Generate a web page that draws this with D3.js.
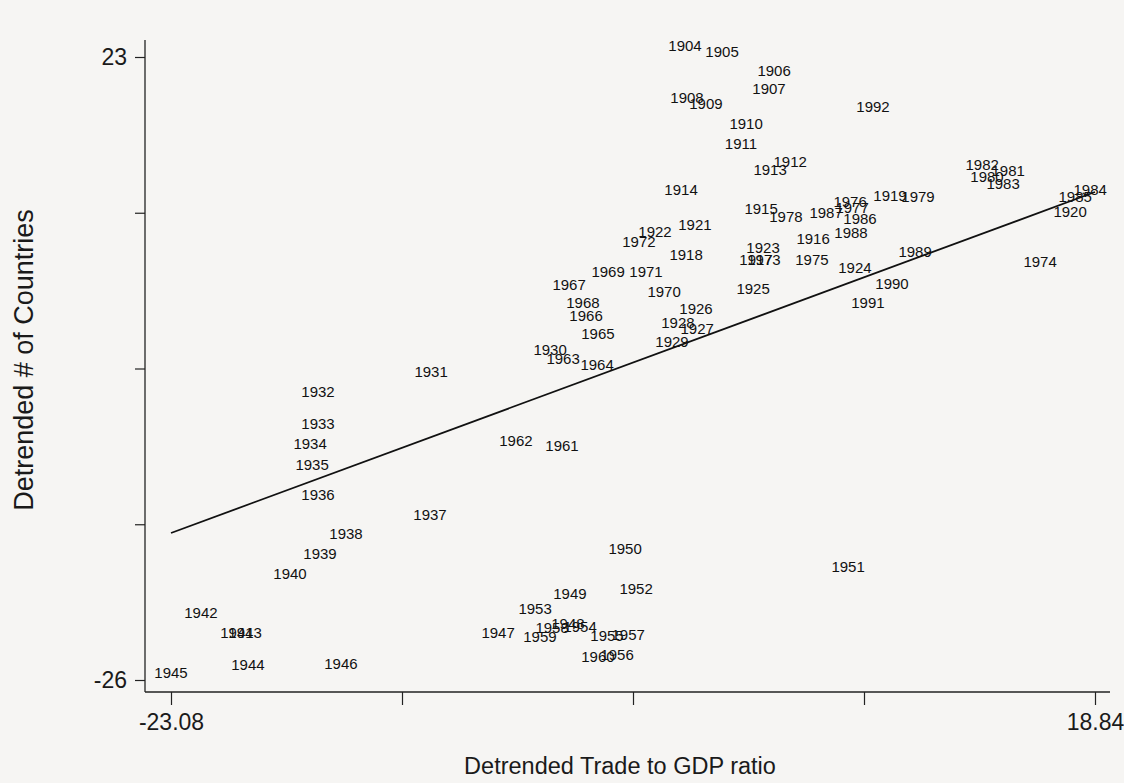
<!DOCTYPE html>
<html>
<head>
<meta charset="utf-8">
<script src="https://cdnjs.cloudflare.com/ajax/libs/d3/7.8.5/d3.min.js"></script>
<style>
  body { margin: 0; background: #f6f5f3; }
  svg { font-family: "Liberation Sans", Arial, sans-serif; }
</style>
</head>
<body>
<script>
// year labels, detrended trade/GDP (x), detrended # of countries (y)
let years = [
  1904, 1905, 1906, 1907, 1908, 1909, 1910, 1911, 1912, 1913,
  1914, 1915, 1916, 1917, 1918, 1919, 1920, 1921, 1922, 1923,
  1924, 1925, 1926, 1927, 1928, 1929, 1930, 1931, 1932, 1933,
  1934, 1935, 1936, 1937, 1938, 1939, 1940, 1941, 1942, 1943,
  1944, 1945, 1946, 1947, 1948, 1949, 1950, 1951, 1952, 1953,
  1954, 1955, 1956, 1957, 1958, 1959, 1960, 1961, 1962, 1963,
  1964, 1965, 1966, 1967, 1968, 1969, 1970, 1971, 1972, 1973,
  1974, 1975, 1976, 1977, 1978, 1979, 1980, 1981, 1982, 1983,
  1984, 1985, 1986, 1987, 1988, 1989, 1990, 1991, 1992
];

let tradeRatio = [
  0.24, 1.92, 4.28, 4.05, 0.33, 1.19, 3.01, 2.78, 5.01, 4.10,
  0.06, 3.69, 6.05, 3.46, 0.29, 9.54, 17.71, 0.69, -1.12, 3.78,
  7.95, 3.33, 0.74, 0.79, -0.08, -0.35, -5.88, -11.28, -16.41, -16.41,
  -16.77, -16.68, -16.41, -11.33, -15.14, -16.32, -17.68, -20.09, -21.72, -19.72,
  -19.59, -23.08, -15.37, -8.24, -5.07, -4.98, -2.48, 7.64, -1.98, -6.56,
  -4.52, -3.30, -2.84, -2.34, -5.79, -6.34, -3.71, -5.34, -7.43, -5.29,
  -3.75, -3.71, -4.25, -5.02, -4.39, -3.25, -0.71, -1.53, -1.85, 3.82,
  16.35, 6.00, 7.73, 7.82, 4.82, 10.81, 13.94, 14.90, 13.72, 14.67,
  18.62, 17.94, 8.18, 6.64, 7.77, 10.68, 9.63, 8.54, 8.77
];

let countries = [
  23.87, 23.39, 21.90, 20.48, 19.78, 19.30, 17.73, 16.16, 14.74, 14.11,
  12.54, 11.04, 8.69, 7.03, 7.43, 12.07, 10.81, 9.79, 9.24, 7.98,
  6.40, 4.75, 3.18, 1.61, 2.08, 0.58, -0.05, -1.78, -3.35, -5.87,
  -7.44, -9.09, -11.45, -13.02, -14.52, -16.09, -17.66, -22.30, -20.73, -22.30,
  -24.82, -25.45, -24.74, -22.30, -21.60, -19.24, -15.70, -17.11, -18.84, -20.42,
  -21.83, -22.54, -24.04, -22.46, -21.91, -22.62, -24.19, -7.60, -7.20, -0.75,
  -1.23, 1.21, 2.63, 5.07, 3.65, 6.09, 4.52, 6.09, 8.45, 7.03,
  6.88, 7.03, 11.60, 11.12, 10.42, 11.99, 13.56, 14.03, 14.51, 13.01,
  12.54, 11.99, 10.26, 10.73, 9.16, 7.66, 5.15, 3.65, 19.07
];

// fitted line end points
let fitX = [-23.08, 18.84];
let fitY = [-14.44, 12.38];

let xTicks = [-23.08, -12.6, -2.12, 8.36, 18.84];
let xTickLabels = ["-23.08", "", "", "", "18.84"];
let yTicks = [23, 10.75, -1.5, -13.75, -26];
let yTickLabels = ["23", "", "", "", "-26"];

let width = 1124,
    height = 783;

let svg = d3.select("body").append("svg")
    .attr("width", width)
    .attr("height", height);

let x = d3.scaleLinear().domain([-23.08, 18.84]).range([171, 1095]);
let y = d3.scaleLinear().domain([-26, 23]).range([680, 57]);

let axisX = 145,
    axisY = 692;

// axis lines
svg.append("line")
    .attr("x1", axisX).attr("x2", axisX)
    .attr("y1", 40).attr("y2", axisY)
    .attr("stroke", "#222").attr("stroke-width", 1.3);
svg.append("line")
    .attr("x1", axisX).attr("x2", 1110)
    .attr("y1", axisY).attr("y2", axisY)
    .attr("stroke", "#222").attr("stroke-width", 1.3);

let yAxis = svg.append("g")
    .attr("transform", "translate(" + axisX + ",0)")
    .call(d3.axisLeft(y)
        .tickValues(yTicks)
        .tickSize(10)
        .tickPadding(8)
        .tickFormat(function(d, i){ return yTickLabels[i]; }));

let xAxis = svg.append("g")
    .attr("transform", "translate(0," + axisY + ")")
    .call(d3.axisBottom(x)
        .tickValues(xTicks)
        .tickSize(13)
        .tickPadding(9)
        .tickFormat(function(d, i){ return xTickLabels[i]; }));

svg.selectAll(".domain").remove();
svg.selectAll(".tick line").attr("stroke", "#222").attr("stroke-width", 1.2);
svg.selectAll(".tick text")
    .attr("fill", "#1a1a1a")
    .style("font-family", "'Liberation Sans', Arial, sans-serif")
    .style("font-size", "23px");

// regression line
let fit = fitX.map(function(v, i){ return [v, fitY[i]]; });
svg.append("path")
    .datum(fit)
    .attr("fill", "none")
    .attr("stroke", "#111")
    .attr("stroke-width", 1.8)
    .attr("d", d3.line()
        .x(function(d){ return x(d[0]); })
        .y(function(d){ return y(d[1]); }));

// year labels as markers
let points = years.map(function(yr, i){
    return {year: yr, tx: tradeRatio[i], nc: countries[i]};
});

svg.append("g").selectAll("text")
    .data(points)
    .enter().append("text")
    .attr("x", function(d){ return x(d.tx); })
    .attr("y", function(d){ return y(d.nc); })
    .attr("dy", "0.36em")
    .attr("text-anchor", "middle")
    .attr("fill", "#111")
    .style("font-size", "15px")
    .text(function(d){ return d.year; });

// axis titles
svg.append("text")
    .attr("x", 620)
    .attr("y", 774)
    .attr("text-anchor", "middle")
    .attr("fill", "#1a1a1a")
    .style("font-size", "23.5px")
    .text("Detrended Trade to GDP ratio");

svg.append("text")
    .attr("transform", "translate(33,360) rotate(-90)")
    .attr("text-anchor", "middle")
    .attr("fill", "#1a1a1a")
    .style("font-size", "27px")
    .text("Detrended # of Countries");
</script>
</body>
</html>
